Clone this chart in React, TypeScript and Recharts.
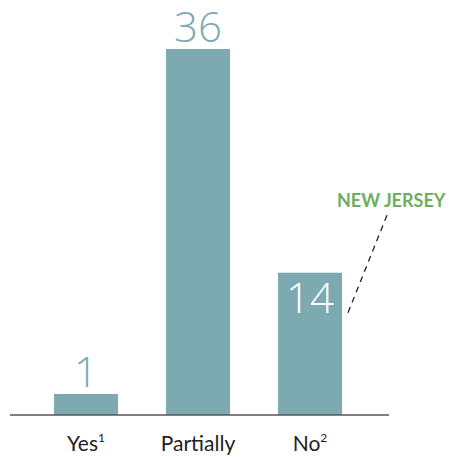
import React from "react";
import { BarChart, Bar, XAxis, YAxis, LabelList } from "recharts";

const categories = ["Yes", "Partially", "No"];
const superscripts = ["1", "", "2"];
const values = [1, 36, 14];
const insideIndex = 2;
const annotationIndex = 2;
const annotationText = "NEW JERSEY";

const data = categories.map((c, i) => ({ name: c, value: values[i], sup: superscripts[i] }));

const BAR = "#7caab0";
const FONT = "Lato, 'Open Sans', sans-serif";
const NUM_FONT = "'Open Sans', Lato, sans-serif";

const Tick = (props: any) => {
  const { x, y, payload, index } = props;
  const sup = superscripts[index ?? payload.index] || "";
  return (
    <text x={x} y={y + 28} textAnchor="middle" fontFamily={FONT} fontSize={21} fill="#222">
      {payload.value}
      {sup ? (
        <tspan fontSize={12} dy={-9}>
          {sup}
        </tspan>
      ) : null}
    </text>
  );
};

const ValueLabel = (props: any) => {
  const { x, y, width, value, index } = props;
  const cx = x + width / 2;
  const inside = index === insideIndex;
  const els: any[] = [];
  els.push(
    <text
      key="v"
      x={cx}
      y={inside ? y + 40 : y - 7}
      textAnchor="middle"
      fontFamily={NUM_FONT}
      fontWeight={300}
      fontSize={42}
      fill={inside ? "#ffffff" : BAR}
    >
      {value}
    </text>
  );
  if (index === annotationIndex) {
    const rx = x + width;
    els.push(
      <line
        key="l"
        x1={rx + 6}
        y1={y + 40}
        x2={rx + 46}
        y2={y - 60}
        stroke="#222"
        strokeWidth={1.3}
        strokeDasharray="6 5"
      />
    );
    els.push(
      <text
        key="t"
        x={rx - 5}
        y={y - 66}
        fontFamily={FONT}
        fontWeight={700}
        fontSize={18}
        fill="#6caf5f"
      >
        {annotationText}
      </text>
    );
  }
  return <g>{els}</g>;
};

export default function App() {
  return (
    <div style={{ position: "absolute", left: 0, top: 0 }}>
      <BarChart
        width={449}
        height={457}
        data={data}
        margin={{ top: 49, right: 60, left: 10, bottom: 0 }}
        barCategoryGap={0}
      >
        <XAxis
          dataKey="name"
          axisLine={{ stroke: "#555", strokeWidth: 1.5 }}
          tickLine={false}
          tick={<Tick />}
          height={42}
          padding={{ left: 20, right: 23 }}
          interval={0}
        />
        <YAxis hide domain={[0, 36]} />
        <Bar dataKey="value" fill={BAR} barSize={64} minPointSize={21} isAnimationActive={false}>
          <LabelList dataKey="value" content={<ValueLabel />} />
        </Bar>
      </BarChart>
    </div>
  );
}
